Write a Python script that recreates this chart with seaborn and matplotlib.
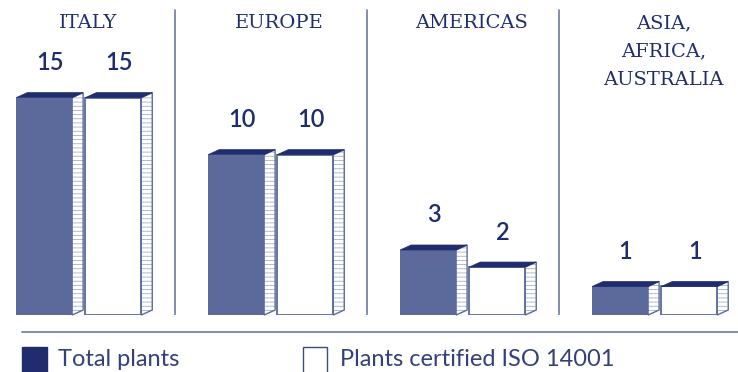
import numpy as np
import pandas as pd
import seaborn as sns
import matplotlib.pyplot as plt
from matplotlib.patches import Polygon, Rectangle
from matplotlib.lines import Line2D
from matplotlib.transforms import IdentityTransform

# data
regions = ["ITALY", "EUROPE", "AMERICAS", "ASIA,\nAFRICA,\nAUSTRALIA"]
series_names = ["Total plants", "Plants certified ISO 14001"]
total_plants = [15, 10, 3, 1]
certified_plants = [15, 10, 2, 1]

NAVY = "#1f2c6e"
SLATE = "#5b6a9b"
HATCH = "#a3aed2"
LINE = "#7783ad"
DX, DY = 11, 5  # depth of the fake 3d, pixels

sns.set_theme(style="white")
plt.rcParams["font.family"] = ["Lato", "DejaVu Sans"]
plt.rcParams["hatch.linewidth"] = 0.6

W, H = 738, 372
fig = plt.figure(figsize=(W / 100, H / 100), dpi=100)
ax = fig.add_axes([0, 57 / H, 1, 1 - 57 / H])

df = pd.DataFrame({
    "region": regions * 2,
    "series": [series_names[0]] * len(regions) + [series_names[1]] * len(regions),
    "plants": total_plants + certified_plants,
})
sns.barplot(data=df, x="region", y="plants", hue="series", order=regions,
            hue_order=series_names, palette=[SLATE, "white"], width=0.72, gap=0.19,
            saturation=1, errorbar=None, legend=False, linewidth=0, ax=ax)

# the designer's bars are not linear, a power scale is close enough
pw = 0.75
ax.set_yscale("function", functions=(lambda v: np.power(np.clip(v, 0, None), pw),
                                     lambda v: np.power(np.clip(v, 0, None), 1 / pw)))
ax.set_ylim(0, 24.6)
ax.set_xlim(-0.410, 3.434)
ax.axis("off")

for k, cont in enumerate(ax.containers):
    for bar in cont:
        x0 = bar.get_x()
        x1 = x0 + bar.get_width()
        h = bar.get_height()
        px0, pb = ax.transData.transform((x0, 0))
        px1, pt = ax.transData.transform((x1, h))
        if k == 1:
            bar.set_edgecolor(SLATE)
            bar.set_linewidth(1.3)
        top = Polygon([(px0, pt), (px1, pt), (px1 + DX, pt + DY), (px0 + DX, pt + DY)],
                      closed=True, facecolor=NAVY, edgecolor=NAVY, lw=0.5,
                      transform=IdentityTransform())
        side_pts = [(px1, pb), (px1, pt), (px1 + DX, pt + DY), (px1 + DX, pb + DY)]
        side = Polygon(side_pts, closed=True, facecolor="white", edgecolor=HATCH,
                       hatch="----", lw=0, transform=IdentityTransform())
        side_edge = Polygon(side_pts, closed=True, fill=False, edgecolor=SLATE, lw=1,
                            transform=IdentityTransform())
        for p in (side, side_edge, top):
            fig.add_artist(p)
        ax.annotate(f"{h:g}", xy=(x0 + bar.get_width() / 2, h), xytext=(DX / 2, 35),
                    textcoords="offset pixels", ha="center", va="center",
                    fontsize=17, fontweight="semibold", color=NAVY)

# region titles
for i, r in enumerate(regions):
    ax.annotate(r, xy=(i, H - 14), xycoords=("data", "figure pixels"), xytext=(9, 0),
                textcoords="offset pixels", ha="center", va="top", ma="center",
                fontfamily="DejaVu Serif", fontsize=14, color=NAVY, linespacing=1.75)

# separators
for xs in [0.5, 1.5, 2.5]:
    ax.axvline(xs, ymin=0, ymax=(315 - 10) / 315, color=LINE, lw=1.3)
fig.add_artist(Line2D([22 / W, 1], [(H - 332) / H] * 2, color=LINE, lw=1.3))

# legend
fig.add_artist(Rectangle((22 / W, -5 / H), 25 / W, 30 / H, facecolor=NAVY, edgecolor=NAVY))
fig.add_artist(Rectangle((303 / W, -5 / H), 24 / W, 30 / H, facecolor="white",
                         edgecolor="#3d4a85", lw=1))
fig.text(58 / W, 12 / H, series_names[0], fontsize=17, fontweight="normal",
         color="#34407a", va="center")
fig.text(340 / W, 12 / H, series_names[1], fontsize=17, fontweight="normal",
         color="#34407a", va="center")

fig.savefig("out.png", dpi=100)
